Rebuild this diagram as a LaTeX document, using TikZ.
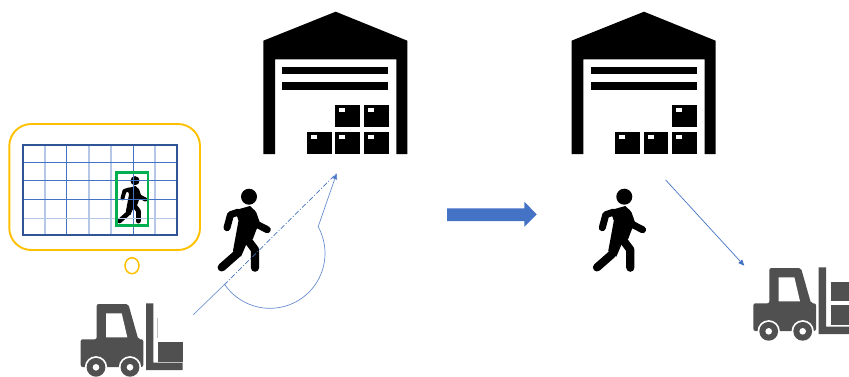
\documentclass[tikz,border=0pt]{standalone}
\usetikzlibrary{arrows.meta}
\definecolor{lineblue}{HTML}{4472C4}
\definecolor{paleblue}{HTML}{B4C7E7}
\definecolor{darkblue}{HTML}{2F5597}
\definecolor{gold}{HTML}{FFC000}
\definecolor{boxgreen}{HTML}{00B050}
\definecolor{truck}{HTML}{505050}
\tikzset{
  thinarrow/.style={draw=lineblue,line width=0.7pt,-{Triangle[length=6pt,width=5pt,fill=lineblue]}},
  gridthin/.style={draw=lineblue,line width=0.8pt},
  gridpale/.style={draw=paleblue,line width=1.4pt},
}
% warehouse at horizontal shift #1, without the boxes
\newcommand{\shedbody}[1]{%
  \begin{scope}[xshift=#1pt]
    \fill[black] (335.7,11.7) -- (407.3,40.7) -- (407.3,154) -- (396.3,154) -- (396.3,59.3)
      -- (275,59.3) -- (275,154) -- (263.3,154) -- (263.3,40.7) -- cycle;
    \fill[black] (282.3,66.7) rectangle (388.3,74.3);
    \fill[black] (282.3,82) rectangle (388.3,89.7);
  \end{scope}}
% box with top-left corner #1,#2
\newcommand{\crate}[2]{%
  \fill[black] (#1,#2) rectangle ++(24.6,22.5);
  \fill[white] (#1+4,#2+3.7) rectangle ++(6,3.4);}
% walking person: origin is the head centre at #1,#2, scale #3
\newcommand{\walkman}[3]{%
  \begin{scope}[shift={(#1,#2)},x=#3pt,y=-#3pt]
    \fill[black] (0,0) circle[radius=8];
    \begin{scope}[line width=#3*7pt,line cap=round,line join=round,draw=black]
      \draw (-11,15.5) -- (-18.5,18) -- (-22,31);
      \draw (4,17) -- (7.7,27.5) -- (18.3,33);
    \end{scope}
    \fill[black] (-14,13.5) -- (1,9.3) -- (6,14) -- (10,27) -- (7,34) -- (4,42) -- (-2,46)
      -- (-8,60) -- (-16,54) -- (-12.5,35) -- (-10.5,24) -- cycle;
    \begin{scope}[line width=#3*8.2pt,line cap=round,line join=round,draw=black]
      \draw (-7,40) -- (-12.3,57.5) -- (-27.3,70.7);
      \draw (-3,41) -- (6,53) -- (6,71);
    \end{scope}
  \end{scope}}
% forklift shifted by #1,#2, without its load
\newcommand{\liftbody}[2]{%
  \begin{scope}[shift={(#1,#2)}]
    \fill[truck,rounded corners=2pt] (80.7,339.3) -- (96.7,339.3) -- (96.7,304) -- (128.3,304)
      -- (138.3,339.3) -- (143.3,339.3) -- (143.3,367) -- (80.7,367) -- cycle;
    \fill[white] (106,313.3) -- (121.7,313.3) -- (127.3,337.3) -- (106,337.3) -- cycle;
    \foreach \cx in {96,130}{
      \fill[white] (\cx,367.3) circle[radius=11.2];
      \fill[truck] (\cx,367.3) circle[radius=9.4];
      \fill[white] (\cx,367.3) circle[radius=3.3];}
    \fill[truck] (146,303.3) -- (153.3,303.3) -- (153.3,362.7) -- (182.7,362.7) -- (182.7,370) -- (146,370) -- cycle;
  \end{scope}}
\begin{document}
\begin{tikzpicture}[x=1pt,y=-1pt]
  \useasboundingbox (0,0) rectangle (849,376);
  \clip (0,0) rectangle (849,376);
  % warehouses
  \shedbody{0}
  \crate{335.3}{104.7}\crate{364}{104.7}
  \crate{307}{131.5}\crate{335.3}{131.5}\crate{364}{131.5}
  \shedbody{308.3}
  \crate{672.3}{104.7}
  \crate{615.3}{131.5}\crate{643.6}{131.5}\crate{672.3}{131.5}
  % monitor
  \draw[gold,line width=1.9pt,rounded corners=22pt] (9.3,124) rectangle (200,250);
  \draw[gold,line width=1.5pt] (132,265.7) ellipse[x radius=7,y radius=8];
  \walkman{135}{180.7}{0.57}
  \foreach \gx/\gs in {45/gridpale,66.3/gridthin,89/gridpale,111/gridpale,133.7/gridthin,155/gridpale}
    \draw[\gs] (\gx,145) -- (\gx,235.3);
  \foreach \gy/\gs in {162.3/gridthin,180.3/gridthin,199.3/gridthin,218.3/gridpale}
    \draw[\gs] (22.7,\gy) -- (176.7,\gy);
  \draw[darkblue,line width=1.7pt] (22.7,145) rectangle (176.7,235.3);
  \draw[boxgreen,line width=2.7pt] (116.7,172.3) rectangle (148,225.3);
  % walkers
  \walkman{249}{196.7}{1}
  \walkman{624.3}{196.7}{1}
  % forklifts
  \liftbody{0}{0}
  \fill[truck] (158,342) rectangle (182.7,361.7);
  \draw[black!25,line width=0.7pt] (157.7,318) -- (157.7,338);
  \liftbody{672.7}{-36}
  \fill[truck] (830.7,281.7) rectangle (856,300.7);
  \fill[truck] (830.7,305) rectangle (856,325);
  % trajectory, left
  \coordinate (tstart) at (193.3,314.7);
  \coordinate (tbend) at (224,285);
  \coordinate (tend) at (336.7,173.3);
  \draw[lineblue!75,line width=0.7pt] (tstart) -- (tbend);
  \draw[lineblue,line width=0.7pt,dash pattern=on 5pt off 2pt on 1pt off 2pt] (tbend) -- (tend);
  \draw[thinarrow,draw=lineblue!80] plot[domain=145.4:-28.9,samples=70] ({270+55*cos(\x)},{253.3+55*sin(\x)}) -- (tend);
  % trajectory, right
  \coordinate (rstart) at (665.7,180);
  \coordinate (rend) at (744.3,265.7);
  \draw[thinarrow] (rstart) -- (rend);
  % block arrow
  \fill[lineblue] (447,208.3) -- (524.3,208.3) -- (524.3,201.7) -- (536.7,214.3) -- (524.3,226.7) -- (524.3,221) -- (447,221) -- cycle;
\end{tikzpicture}
\end{document}
